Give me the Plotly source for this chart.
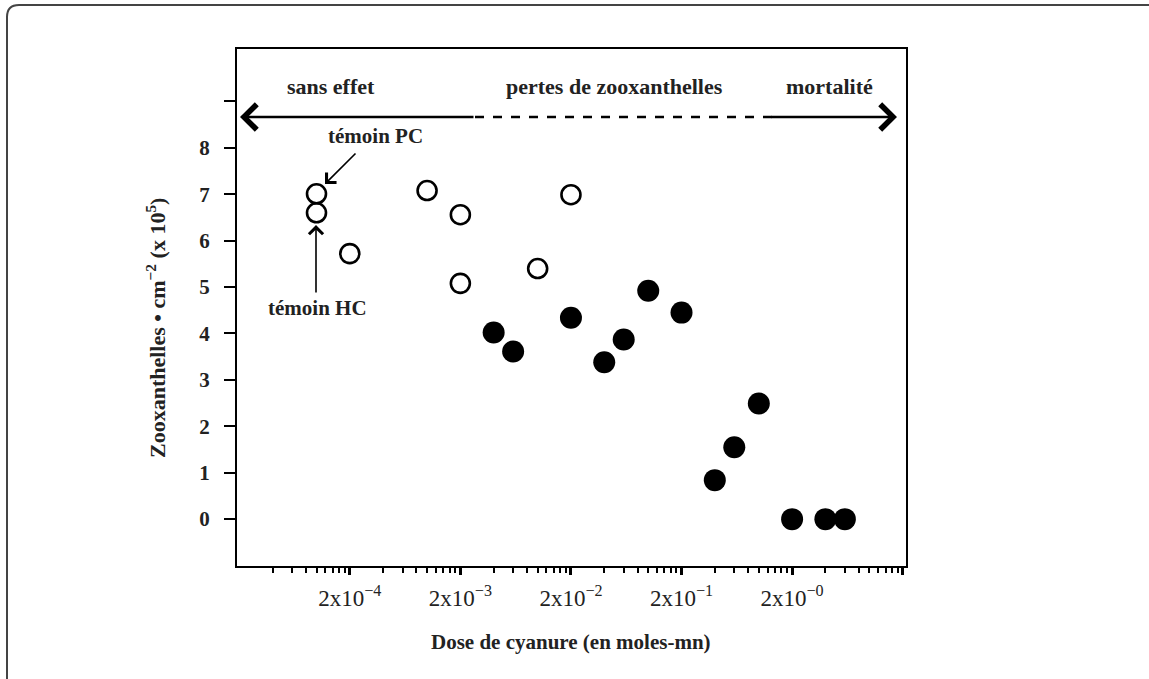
import plotly.graph_objects as go

# ---- data ----
open_x = [5e-5, 5e-5, 1e-4, 5e-4, 1e-3, 1e-3, 5e-3, 1e-2]
open_y = [7.01, 6.60, 5.72, 7.08, 6.56, 5.08, 5.40, 6.99]
filled_x = [2e-3, 3e-3, 1e-2, 2e-2, 3e-2, 5e-2, 1e-1, 2e-1, 3e-1, 5e-1, 1, 2, 3]
filled_y = [4.02, 3.61, 4.34, 3.38, 3.87, 4.92, 4.45, 0.84, 1.55, 2.49, 0, 0, 0]

x_major = [1e-4, 1e-3, 1e-2, 1e-1, 1, 10]
x_labels = ["2x10<sup>−4</sup>", "2x10<sup>−3</sup>", "2x10<sup>−2</sup>",
            "2x10<sup>−1</sup>", "2x10<sup>−0</sup>", ""]
x_minor = [m * d for d in [1e-5, 1e-4, 1e-3, 1e-2, 1e-1, 1] for m in range(2, 10)]
y_ticks = [0, 1, 2, 3, 4, 5, 6, 7, 8, 9]
y_labels = ["0", "1", "2", "3", "4", "5", "6", "7", "8", ""]

zone_labels = ["sans effet", "pertes de zooxanthelles", "mortalité"]

W, H = 1149, 679
L, R, T, B = 237, 243, 49, 113
PW, PH = W - L - R, H - T - B


def px(x):
    return (x - L) / PW


def py(y):
    return (H - B - y) / PH


SERIF = "Liberation Serif"

fig = go.Figure()
fig.add_trace(go.Scatter(
    x=open_x, y=open_y, mode="markers",
    marker=dict(symbol="circle-open", size=19, color="black", line=dict(width=2.6)),
    showlegend=False, hoverinfo="x+y"))
fig.add_trace(go.Scatter(
    x=filled_x, y=filled_y, mode="markers",
    marker=dict(symbol="circle", size=22, color="black", line=dict(width=0)),
    showlegend=False, hoverinfo="x+y"))


def label(x, y, text, size, angle=0):
    return dict(x=px(x), y=py(y), xref="paper", yref="paper", text=text,
                showarrow=False, xanchor="center", yanchor="middle", textangle=angle,
                font=dict(family=SERIF, size=size, color="#222", weight="bold"))


def arrow(hx, hy, ax, ay, width, size):
    return dict(x=px(hx), y=py(hy), xref="paper", yref="paper", ax=ax, ay=ay,
                text="", showarrow=True, arrowhead=4, arrowsize=size,
                arrowwidth=width, arrowcolor="black")


annotations = []
for txt, xc in zip(zone_labels, [331, 614, 829]):
    annotations.append(label(xc, 86, txt, 22))
annotations.append(arrow(240, 117, 235, 0, 2.6, 1.9))
annotations.append(arrow(897, 117, -127, 0, 2.6, 1.9))
annotations.append(label(375, 136, "témoin PC", 21))
annotations.append(label(317, 308, "témoin HC", 21))
annotations.append(arrow(325, 184, 32, -32, 1.6, 1.7))
annotations.append(arrow(316, 225, 0, 69, 1.6, 1.7))
annotations.append(label(571, 642, "Dose de cyanure (en moles-mn)", 21))
annotations.append(label(156, 328, "Zooxanthelles • cm<sup>−2</sup> (x 10<sup>5</sup>)", 22, -90))

shapes = [
    dict(type="line", xref="paper", yref="paper", x0=px(475), x1=px(772),
         y0=py(117), y1=py(117), line=dict(color="black", width=2.6, dash="dash")),
    dict(type="path", xref="paper", yref="paper",
         path=(f"M {px(7)},{py(690)} L {px(7)},{py(17)} "
               f"Q {px(7)},{py(5)} {px(19)},{py(5)} L {px(1160)},{py(5)}"),
         line=dict(color="#444", width=2)),
]

fig.update_layout(
    width=W, height=H, autosize=False,
    margin=dict(l=L, r=R, t=T, b=B),
    paper_bgcolor="white", plot_bgcolor="white",
    annotations=annotations, shapes=shapes,
    xaxis=dict(type="log", range=[-5.02, 1.03], showgrid=False, zeroline=False,
               showline=True, mirror=True, linecolor="black", linewidth=2,
               ticks="outside", tickvals=x_major, ticktext=x_labels,
               ticklen=7, tickwidth=2.5, tickcolor="black", ticklabelstandoff=3,
               tickfont=dict(family=SERIF, size=23, color="#222"),
               minor=dict(tickvals=x_minor, ticks="outside", ticklen=5,
                          tickwidth=1.5, tickcolor="black", showgrid=False)),
    yaxis=dict(range=[-1.01, 10.13], showgrid=False, zeroline=False,
               showline=True, mirror=True, linecolor="black", linewidth=2,
               ticks="outside", tickvals=y_ticks, ticktext=y_labels,
               ticklen=11, tickwidth=2, tickcolor="black", ticklabelstandoff=10,
               tickfont=dict(family=SERIF, size=21, color="#222", weight="bold")),
)

fig.write_html("out.html", config={"displayModeBar": False},
               post_script="document.body.style.margin='0px';")
